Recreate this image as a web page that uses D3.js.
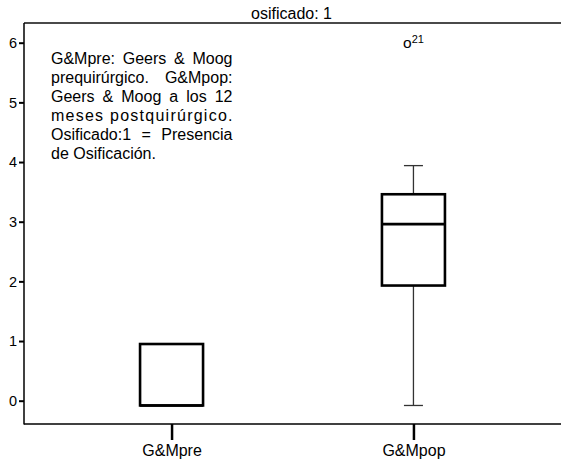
<!DOCTYPE html>
<html>
<head>
<meta charset="utf-8">
<script src="https://cdn.jsdelivr.net/npm/d3@7"></script>
<style>
  html, body { margin: 0; padding: 0; background: #fff; overflow: hidden; }
  svg { display: block; font-family: "Liberation Sans", Arial, Helvetica, sans-serif; }
</style>
</head>
<body>
<svg id="chart" width="561" height="460"></svg>
<script>
// ---- data ----
const title = "osificado: 1";
const categories = ["G&Mpre", "G&Mpop"];
const mins    = [-0.08, -0.08];
const q1s     = [-0.08, 1.93];
const medians = [-0.08, 2.96];
const q3s     = [0.95, 3.46];
const maxs    = [0.95, 3.94];
const outlierValues = [null, 5.95];
const outlierLabels = [null, "21"];
const yTicks = [0, 1, 2, 3, 4, 5, 6];
const noteLines = [
  "G&Mpre: Geers & Moog",
  "prequirúrgico. G&Mpop:",
  "Geers & Moog a los 12",
  "meses postquirúrgico.",
  "Osificado:1 = Presencia",
  "de Osificación."
];

// ---- layout ----
const svg = d3.select("#chart");
const mLeft = 24, mRight = 561, mTop = 23, mBottom = 424;

const y = d3.scaleLinear().domain([0, 6]).range([400.7, 42.7]);
const x = d3.scalePoint().domain(categories).range([mLeft, mRight]).padding(0.61);
const boxW = 63, capW = 19;

// frame: top border
svg.append("line").attr("x1", mLeft).attr("x2", mRight + 2).attr("y1", mTop).attr("y2", mTop)
  .attr("stroke", "#4a4a4a").attr("stroke-width", 2);

// title
svg.append("text").attr("x", (mLeft + mRight) / 2 - 1).attr("y", 19)
  .attr("text-anchor", "middle").attr("font-size", 16).attr("fill", "#000").text(title);

// y axis
const yAxis = d3.axisLeft(y).tickValues(yTicks).tickSize(5).tickPadding(2).tickFormat(d3.format("d"));
const gy = svg.append("g").attr("transform", `translate(${mLeft},0)`).call(yAxis);
gy.select(".domain").remove();
gy.selectAll(".tick line").attr("stroke", "#000").attr("stroke-width", 2);
gy.selectAll(".tick text").attr("font-size", 14.5).attr("fill", "#000")
  .attr("font-family", "'Liberation Sans', Arial, sans-serif");
svg.append("line").attr("x1", mLeft).attr("x2", mLeft).attr("y1", mTop).attr("y2", mBottom + 0.5)
  .attr("stroke", "#000").attr("stroke-width", 1.5);

// x axis
const xAxis = d3.axisBottom(x).tickSize(16).tickPadding(5);
const gx = svg.append("g").attr("transform", `translate(0,${mBottom})`).call(xAxis);
gx.select(".domain").remove();
gx.selectAll(".tick line").attr("stroke", "#000").attr("stroke-width", 2.5);
gx.selectAll(".tick text").attr("font-size", 16).attr("fill", "#000")
  .attr("font-family", "'Liberation Sans', Arial, sans-serif");
svg.append("line").attr("x1", mLeft).attr("x2", mRight + 2).attr("y1", mBottom).attr("y2", mBottom)
  .attr("stroke", "#000").attr("stroke-width", 1.5);

// boxes
categories.forEach((c, i) => {
  const cx = x(c);
  const g = svg.append("g");
  if (maxs[i] > q3s[i]) {
    g.append("line").attr("x1", cx).attr("x2", cx).attr("y1", y(q3s[i])).attr("y2", y(maxs[i]))
      .attr("stroke", "#333").attr("stroke-width", 1.3);
    g.append("line").attr("x1", cx - capW / 2).attr("x2", cx + capW / 2).attr("y1", y(maxs[i])).attr("y2", y(maxs[i]))
      .attr("stroke", "#333").attr("stroke-width", 1.3);
  }
  if (mins[i] < q1s[i]) {
    g.append("line").attr("x1", cx).attr("x2", cx).attr("y1", y(q1s[i])).attr("y2", y(mins[i]))
      .attr("stroke", "#333").attr("stroke-width", 1.3);
    g.append("line").attr("x1", cx - capW / 2).attr("x2", cx + capW / 2).attr("y1", y(mins[i])).attr("y2", y(mins[i]))
      .attr("stroke", "#333").attr("stroke-width", 1.3);
  }
  g.append("rect").attr("x", cx - boxW / 2).attr("y", y(q3s[i]))
    .attr("width", boxW).attr("height", y(q1s[i]) - y(q3s[i]))
    .attr("fill", "#fff").attr("stroke", "#000").attr("stroke-width", 2.6);
  g.append("line").attr("x1", cx - boxW / 2).attr("x2", cx + boxW / 2)
    .attr("y1", y(medians[i])).attr("y2", y(medians[i]))
    .attr("stroke", "#000").attr("stroke-width", 2.6);
  if (outlierValues[i] != null) {
    const t = g.append("text").attr("x", cx).attr("y", y(outlierValues[i]) + 2.5)
      .attr("text-anchor", "middle").attr("fill", "#000");
    t.append("tspan").attr("font-size", 15.5).text("o");
    t.append("tspan").attr("font-size", 11).attr("dy", -5).text(outlierLabels[i]);
  }
});

// justified note text
const noteLeft = 51, noteRight = 232.5, noteTop = 64, lineH = 18.9, noteSize = 16;
noteLines.forEach((line, li) => {
  const yy = noteTop + li * lineH;
  const words = line.split(" ");
  const isLast = li === noteLines.length - 1;
  if (isLast) {
    svg.append("text").attr("x", noteLeft).attr("y", yy).attr("font-size", noteSize)
      .attr("fill", "#000").text(line);
    return;
  }
  const nodes = words.map(w => svg.append("text").attr("y", yy).attr("font-size", noteSize)
    .attr("fill", "#000").text(w));
  const widths = nodes.map(n => n.node().getComputedTextLength());
  const total = d3.sum(widths);
  const gap = (noteRight - noteLeft - total) / (words.length - 1);
  if (gap > noteSize * 1.3) {
    // too loose for word spacing alone: spread the letters as well
    nodes.forEach(n => n.remove());
    svg.append("text").attr("x", noteLeft).attr("y", yy).attr("font-size", noteSize)
      .attr("fill", "#000").attr("textLength", noteRight - noteLeft)
      .attr("lengthAdjust", "spacing").text(line);
    return;
  }
  let cur = noteLeft;
  nodes.forEach((n, k) => { n.attr("x", cur); cur += widths[k] + gap; });
});
</script>
</body>
</html>
